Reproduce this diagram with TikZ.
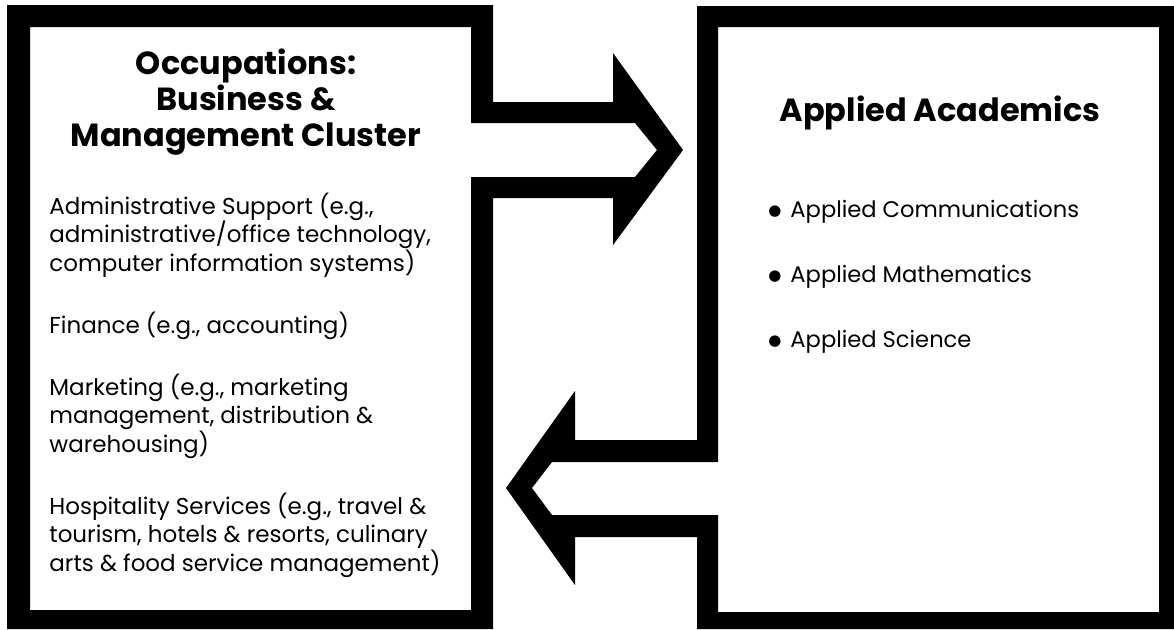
\documentclass[tikz,border=0pt]{standalone}
\usepackage{fontspec}
\setmainfont{Poppins}
\newfontfamily\symfont{DejaVu Sans}
\newcommand\itemdot{\raisebox{0.9pt}{\symfont\fontsize{7.5pt}{7.5pt}\selectfont ●}\hspace{4.5pt}}
\begin{document}
\begin{tikzpicture}[x=0.5pt,y=-0.5pt,
  frame/.style={fill=black,even odd rule},
  headtext/.style={anchor=base,inner sep=0pt,font=\fontsize{16pt}{18pt}\selectfont\bfseries},
  bodytext/.style={anchor=base west,inner sep=0pt,font=\fontsize{11.5pt}{14pt}\selectfont},
  itemtext/.style={anchor=base west,inner sep=0pt,font=\fontsize{11.3pt}{14pt}\selectfont}]
\useasboundingbox (0,0) rectangle (1174,629);

% left frame, opening into the arrow pointing right
\fill[frame]
  (7,5) -- (493,5) -- (493,102) -- (613,102) -- (613,53) -- (683,150)
  -- (613,245) -- (613,198) -- (493,198) -- (493,629) -- (7,629) -- cycle
  (30,27) -- (471,27) -- (471,123) -- (635,123) -- (657,150) -- (635,177)
  -- (471,177) -- (471,610) -- (30,610) -- cycle;

% right frame, opening into the arrow pointing left
\fill[frame]
  (697,6) -- (1174,6) -- (1174,629) -- (697,629) -- (697,537) -- (575,537)
  -- (575,585) -- (506,488) -- (575,391) -- (575,440) -- (697,440) -- cycle
  (718,27) -- (1159,27) -- (1159,612) -- (718,612) -- (718,515) -- (552,515)
  -- (532,488) -- (552,462) -- (718,462) -- cycle;

% left box heading
\node[headtext] (occ1) at (246,74) {Occupations:};
\node[headtext] (occ2) at (246,110) {Business \&};
\node[headtext] (occ3) at (246,146) {Management Cluster};

% left box entries
\node[bodytext] (adm1) at (49,214) {Administrative Support (e.g.,};
\node[bodytext] (adm2) at (49,242.5) {administrative/office technology,};
\node[bodytext] (adm3) at (49,271) {computer information systems)};
\node[bodytext] (fin1) at (49,333) {Finance (e.g., accounting)};
\node[bodytext] (mkt1) at (49,395) {Marketing (e.g., marketing};
\node[bodytext] (mkt2) at (49,423.5) {management, distribution \&};
\node[bodytext] (mkt3) at (49,452) {warehousing)};
\node[bodytext] (hos1) at (49,514) {Hospitality Services (e.g., travel \&};
\node[bodytext] (hos2) at (49,542.5) {tourism, hotels \& resorts, culinary};
\node[bodytext] (hos3) at (49,571) {arts \& food service management)};

% right box heading and items
\node[headtext] (aca) at (940,121) {Applied Academics};
\node[itemtext] (com) at (768,217) {\itemdot Applied Communications};
\node[itemtext] (mat) at (768,282) {\itemdot Applied Mathematics};
\node[itemtext] (sci) at (768,347) {\itemdot Applied Science};
\end{tikzpicture}
\end{document}
